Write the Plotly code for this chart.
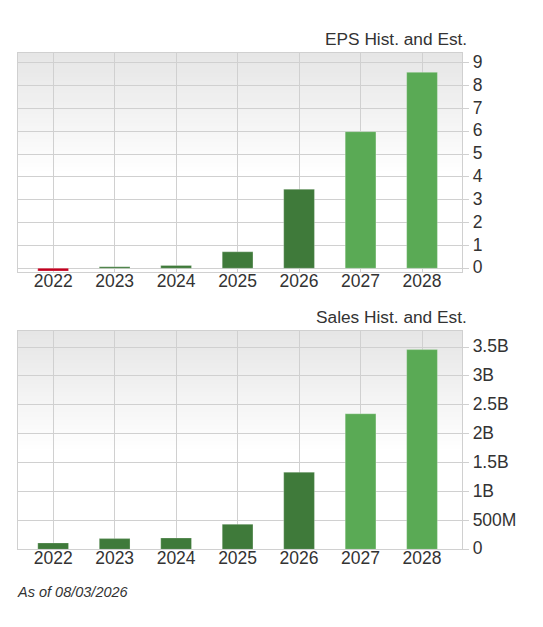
import plotly.graph_objects as go

# ── Data ───────────────────────────────────────────────────────────────
years = [2022, 2023, 2024, 2025, 2026, 2027, 2028]
eps_values = [-0.12, 0.07, 0.12, 0.72, 3.46, 5.98, 8.58]
sales_values = [0.11e9, 0.185e9, 0.196e9, 0.433e9, 1.334e9, 2.345e9, 3.455e9]

eps_ticks = [0, 1, 2, 3, 4, 5, 6, 7, 8, 9]
sales_ticks = [0, 0.5e9, 1e9, 1.5e9, 2e9, 2.5e9, 3e9, 3.5e9]
sales_tick_labels = ["0", "500M", "1B", "1.5B", "2B", "2.5B", "3B", "3.5B"]

# ── Palette ────────────────────────────────────────────────────────────
C_TEXT = "#333333"
C_GRID = "#d0d0d0"
C_RED = "#c4001f"
C_DARK = "#3f7a3a"
C_LIGHT = "#5aaa55"
FONT = "Liberation Sans, Arial, sans-serif"

# the page body keeps its 8px margin, so the figure sits inside it
PAGE = 8
W, H = 543 - 2 * PAGE, 627 - 2 * PAGE
PLOT_L, PLOT_R = 17.5 - PAGE, 462 - PAGE
TOP_T, TOP_B = 52.7 - PAGE, 271.7 - PAGE
BOT_T, BOT_B = 331 - PAGE, 549.3 - PAGE


def bar_color(year, value):
    if value < 0:
        return C_RED
    return C_LIGHT if year >= 2027 else C_DARK


fig = go.Figure()

# bars, one trace for each panel
for values, yaxis in [(eps_values, "y"), (sales_values, "y2")]:
    fig.add_trace(go.Bar(
        x=years, y=values, width=0.5,
        xaxis="x" if yaxis == "y" else "x2", yaxis=yaxis,
        marker=dict(color=[bar_color(yr, v) for yr, v in zip(years, values)],
                    line=dict(color="rgba(255,255,255,0.25)", width=1)),
        showlegend=False,
    ))

# grey-to-white background fade behind the gridlines, each band painted over the last
steps = 30
for xref, yref in [("x domain", "y domain"), ("x2 domain", "y2 domain")]:
    for i in range(steps):
        shade = round(230 + 25 * i / (steps - 1))
        fig.add_shape(
            type="rect", layer="below", line_width=0,
            xref=xref, yref=yref, x0=0, x1=1,
            y0=0, y1=1 - 0.56 * i / steps,
            fillcolor=f"rgb({shade},{shade},{shade})",
        )

x_style = dict(
    range=[2021.42, 2028.65], tickvals=years, tickfont=dict(size=17.5, color=C_TEXT),
    showgrid=True, gridcolor=C_GRID, gridwidth=1.3, zeroline=False, ticks="",
    ticklabelstandoff=-7, automargin=False,
    showline=True, linecolor=C_GRID, linewidth=1.3, mirror=True,
    domain=[PLOT_L / W, PLOT_R / W],
)
y_style = dict(
    side="right", tickfont=dict(size=17.5, color=C_TEXT),
    showgrid=True, gridcolor=C_GRID, gridwidth=1.3, zeroline=False,
    ticks="outside", ticklen=6, tickcolor=C_GRID, automargin=False,
    ticklabelshift=-1,
    showline=True, linecolor=C_GRID, linewidth=1.3, mirror=True,
)

fig.update_layout(
    width=W, height=H,
    margin=dict(l=0, r=0, t=0, b=0, autoexpand=False),
    paper_bgcolor="white", plot_bgcolor="white",
    font=dict(family=FONT, color=C_TEXT),
    bargap=0.5, showlegend=False,
    xaxis=dict(x_style, anchor="y"),
    xaxis2=dict(x_style, anchor="y2"),
    yaxis=dict(y_style, anchor="x", range=[-0.15, 9.44], tickvals=eps_ticks,
               domain=[1 - TOP_B / H, 1 - TOP_T / H]),
    yaxis2=dict(y_style, anchor="x2", range=[0, 3.777e9], tickvals=sales_ticks,
                ticktext=sales_tick_labels,
                domain=[1 - BOT_B / H, 1 - BOT_T / H]),
)

for text, y_px in [("EPS Hist. and Est.", 39), ("Sales Hist. and Est.", 317)]:
    fig.add_annotation(
        x=(468.5 - PAGE) / W, y=1 - (y_px - PAGE) / H, xref="paper", yref="paper",
        text=text, showarrow=False, xanchor="right", yanchor="middle",
        font=dict(size=17.3, color=C_TEXT),
    )

fig.add_annotation(
    x=(17 - PAGE) / W, y=1 - (592 - PAGE) / H, xref="paper", yref="paper",
    text="<i>As of 08/03/2026</i>", showarrow=False,
    xanchor="left", yanchor="middle", xshift=-2,
    font=dict(size=14.5, color=C_TEXT),
)

fig.write_html("out.html")
